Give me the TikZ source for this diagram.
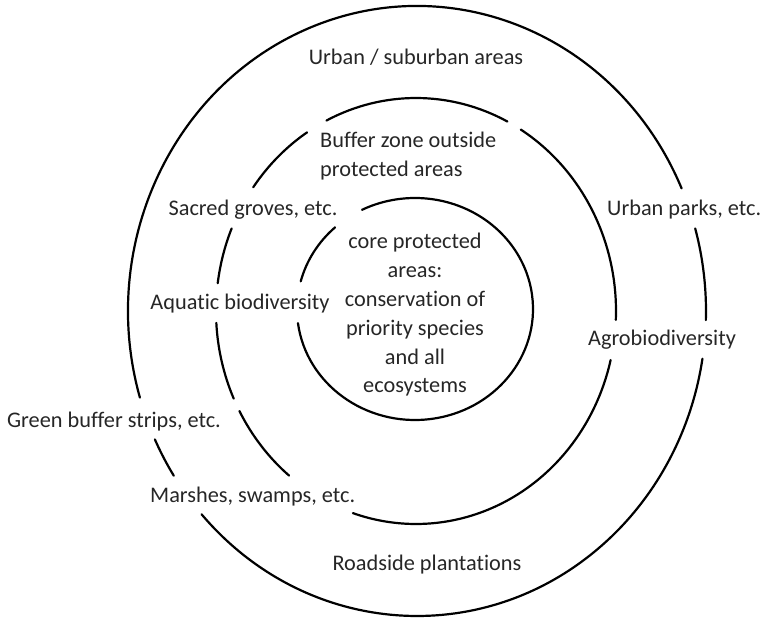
\documentclass[tikz,border=0pt]{standalone}
\usepackage{fontspec}
\setmainfont{Carlito}[Ligatures={NoCommon}, RawFeature={-liga;-dlig;-clig}]
\begin{document}
\begin{tikzpicture}[x=1pt,y=1pt,
  ring/.style={line width=2.2pt, draw=black, line cap=round},
  lbl/.style={font=\fontsize{22.3}{29}\selectfont, text=black!85, inner sep=0pt, align=center}]
\useasboundingbox (0,0) rectangle (761,621);
% outer ring
\foreach \a/\b in {23.7/196.5, 204.9/212.7, 221.8/351, 358.3/375.7}
  {\draw[ring] (417,310) ++(\a:289 and 305) arc[start angle=\a, end angle=\b, x radius=289, y radius=305];}
% middle ring
\foreach \a/\b in {62.8/116.6, 123/144.5, 157.2/172.5, 183.2/204.3, 208/230.6, 251.6/346.7, 357.6/418.4}
  {\draw[ring] (416,310) ++(\a:200 and 213) arc[start angle=\a, end angle=\b, x radius=200, y radius=213];}
% inner ring
\foreach \a/\b in {132.6/165.6, 187.3/476.7}
  {\draw[ring] (415,312) ++(\a:118 and 111) arc[start angle=\a, end angle=\b, x radius=118, y radius=111];}
% labels
\node[lbl] (urban) at (416,564) {Urban / suburban areas};
\node[lbl, align=left, anchor=west] (buffer) at (320,465) {Buffer zone outside\\protected areas};
\node[lbl] (sacred) at (253,411) {Sacred groves, etc.};
\node[lbl, anchor=west] (parks) at (607,411) {Urban parks, etc.};
\node[lbl, font=\fontsize{22.3}{28.8}\selectfont] (core) at (415,306) {core protected\\areas:\\conservation of\\priority species\\and all\\ecosystems};
\node[lbl] (aquatic) at (240,317) {Aquatic biodiversity};
\node[lbl] (agro) at (662,281) {Agrobiodiversity};
\node[lbl] (green) at (114,199) {Green buffer strips, etc.};
\node[lbl, anchor=west] (marshes) at (150,124) {Marshes, swamps, etc.};
\node[lbl] (road) at (427,56) {Roadside plantations};
\end{tikzpicture}
\end{document}
